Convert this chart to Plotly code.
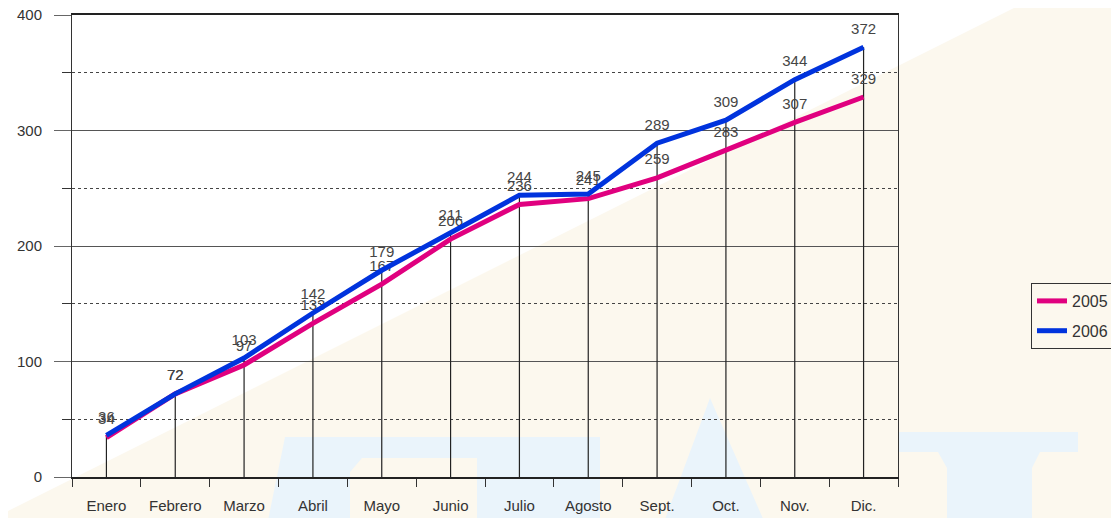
import plotly.graph_objects as go

meses = ["Enero", "Febrero", "Marzo", "Abril", "Mayo", "Junio",
         "Julio", "Agosto", "Sept.", "Oct.", "Nov.", "Dic."]
serie_2005 = [34, 72, 97, 133, 167, 206, 236, 241, 259, 283, 307, 329]
serie_2006 = [36, 72, 103, 142, 179, 211, 244, 245, 289, 309, 344, 372]

# page body has an 8px margin, so the figure is a bit smaller than the window
OFF = 8
W, H = 1119 - OFF, 518 - OFF
PX0, PY0, PW, PH = 72, 15, 826, 462   # plot area in window pixels
L, T = PX0 - OFF, PY0 - OFF
R, B = W - L - PW, H - T - PH

FONT = "Liberation Sans, Arial, sans-serif"
BEIGE = "#fcf8ee"
AGUA = "#eaf4fb"


def pp(x, y):
    # window pixel -> paper coords (watermark only)
    return (x - PX0) / PW, (PY0 + PH - y) / PH


def path(points, close=True):
    s = ""
    for i, (x, y) in enumerate(points):
        px_, py_ = pp(x, y)
        s += ("M" if i == 0 else "L") + f"{px_:.4f},{py_:.4f} "
    return s + ("Z" if close else "")


fig = go.Figure()

# drop lines from each month's top value to the axis
xs, ys = [], []
for m, a, b in zip(meses, serie_2005, serie_2006):
    xs += [m, m, None]
    ys += [0, max(a, b), None]
fig.add_trace(go.Scatter(x=xs, y=ys, mode="lines", line=dict(color="#222222", width=1.2),
                         showlegend=False, hoverinfo="skip"))

for nombre, vals, color in [("2005", serie_2005, "#e0007f"), ("2006", serie_2006, "#0033dd")]:
    fig.add_trace(go.Scatter(
        x=meses, y=vals, name=nombre, legendgroup=nombre,
        mode="lines+markers+text",
        line=dict(color=color, width=5),
        marker=dict(size=14, color="rgba(0,0,0,0)"),
        text=[str(v) for v in vals], textposition="top center",
        textfont=dict(family=FONT, size=15, color="#454545"),
    ))

# faint background watermark
WX, WY = 1130, 530
shapes = [
    dict(type="path", path=path([(-20, 525), (1030, 0), (1060, -20), (WX, -20), (WX, WY), (-20, WY)]),
         fillcolor=BEIGE, line=dict(width=0)),
    dict(type="path", path=path([(266, WY), (285, 437), (600, 437), (600, WY)]),
         fillcolor=AGUA, line=dict(width=0)),
    dict(type="path", path=path([(350, WY), (350, 472), (362, 458), (477, 458), (477, WY)]),
         fillcolor=BEIGE, line=dict(width=0)),
    dict(type="path", path=path([(661, WY), (710, 398), (768, WY)]),
         fillcolor=AGUA, line=dict(width=0)),
    dict(type="path", path=path([(898, 432), (1078, 432), (1078, 452), (1040, 452), (1032, 468),
                                 (1032, WY), (947, WY), (947, 468), (938, 452), (898, 452)]),
         fillcolor=AGUA, line=dict(width=0)),
]
for s in shapes:
    s.update(xref="paper", yref="paper", layer="below")

fig.update_layout(
    width=W, height=H,
    margin=dict(l=L, r=R, t=T, b=B, autoexpand=False),
    paper_bgcolor="white",
    plot_bgcolor="rgba(0,0,0,0)",
    font=dict(family=FONT, size=15, color="#333333"),
    shapes=shapes,
    showlegend=True,
    legend=dict(x=(1031 - PX0) / PW, xanchor="left", y=(PY0 + PH - 283) / PH, yanchor="top",
                bordercolor="#333333", borderwidth=1, bgcolor="rgba(0,0,0,0)",
                font=dict(family=FONT, size=16, color="#333333"),
                itemwidth=30,
                traceorder="grouped", tracegroupgap=6),
    xaxis=dict(
        type="category", categoryorder="array", categoryarray=meses,
        range=[-0.5, 11.5], showgrid=False, zeroline=False,
        showline=True, linecolor="#222222", linewidth=2, mirror=True,
        ticks="outside", tickson="boundaries", ticklen=8, tickcolor="#333333",
        ticklabelstandoff=14,
        tickfont=dict(family=FONT, size=15, color="#333333"),
    ),
    yaxis=dict(
        range=[0, 400], dtick=100, tick0=0,
        showgrid=True, gridcolor="#555555", gridwidth=1, zeroline=False,
        showline=True, linecolor="#333333", linewidth=1, mirror=True,
        ticks="outside", ticklen=17, tickcolor="#666666",
        ticklabelstandoff=9, ticklabeloverflow="allow",
        tickfont=dict(family=FONT, size=15, color="#333333"),
        minor=dict(dtick=50, tick0=0, ticks="outside", ticklen=9, tickcolor="#333333",
                   showgrid=True, gridcolor="#444444", griddash="dot", gridwidth=1),
    ),
)

fig.write_html("out.html")
